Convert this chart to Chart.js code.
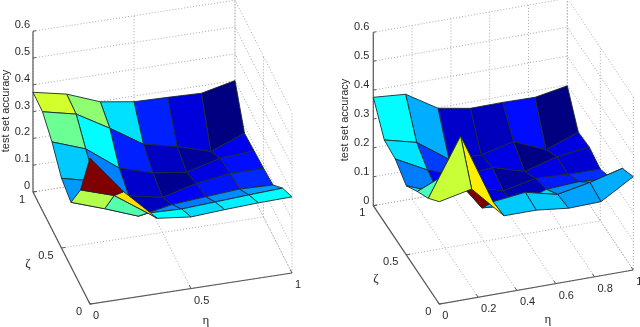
<!DOCTYPE html>
<html>
<head>
<meta charset="utf-8">
<style>
  html, body { margin: 0; padding: 0; background: #fff; }
  canvas { display: block; }
</style>
<script src="https://cdn.jsdelivr.net/npm/chart.js@4/dist/chart.umd.min.js"></script>
</head>
<body>
<canvas id="surfaces" width="640" height="327"></canvas>
<script>
// grid positions of both surfaces, rows run from zeta = 1 to zeta = 0
const etaGrid = [0, 1 / 6, 2 / 6, 3 / 6, 4 / 6, 5 / 6, 1];
const zetaGrid = [1, 5 / 6, 4 / 6, 3 / 6, 2 / 6, 1 / 6, 0];

const leftAccuracy = [
    [0.372, 0.346, 0.298, 0.279, 0.276, 0.272, 0.300],
    [0.369, 0.341, 0.269, 0.190, 0.162, 0.124, 0.173],
    [0.326, 0.281, 0.190, 0.152, 0.136, 0.169, 0.178],
    [0.260, 0.230, 0.156, 0.131, 0.164, 0.182, 0.182],
    [0.240, 0.197, 0.150, 0.174, 0.184, 0.193, 0.189],
    [0.356, 0.316, 0.231, 0.227, 0.234, 0.241, 0.247],
    [0.545, 0.400, 0.281, 0.267, 0.275, 0.281, 0.284]
];
const rightAccuracy = [
    [0.375, 0.366, 0.298, 0.278, 0.279, 0.277, 0.297],
    [0.284, 0.256, 0.178, 0.173, 0.200, 0.152, 0.193],
    [0.275, 0.217, 0.174, 0.187, 0.153, 0.185, 0.198],
    [0.239, 0.195, 0.195, 0.163, 0.186, 0.181, 0.179],
    [0.276, 0.324, 0.180, 0.170, 0.205, 0.212, 0.203],
    [0.309, 0.505, 0.258, 0.271, 0.244, 0.266, 0.295],
    [0.354, 0.378, 0.266, 0.266, 0.253, 0.256, 0.323]
];

const accuracyTicks = ['0', '0.1', '0.2', '0.3', '0.4', '0.5', '0.6'];
const zetaTicks = ['0', '0.5', '1'];
const leftEtaTicks = ['0', '0.5', '1'];
const rightEtaTicks = ['0', '0.2', '0.4', '0.6', '0.8', '1'];
const accuracyTitle = 'test set accuracy';
const etaTitle = 'η';
const zetaTitle = 'ζ';

// axonometric view of each panel: where the front corner sits and where the unit axes point
const leftView = { x: 90, y: 304, etaX: 202, etaY: -31, zetaX: -57, zetaY: -112, up: 268,
    titleX: 6, titleY: 111, zetaLabelX: 28, zetaLabelY: 264, etaLabelX: 206, etaLabelY: 321, zShift: 3, zLift: 6 };
const rightView = { x: 439.3, y: 304, etaX: 194, etaY: -34, zetaX: -66, zetaY: -98.3, up: 289,
    titleX: 345, titleY: 120, zetaLabelX: 376, zetaLabelY: 279, etaLabelX: 548, etaLabelY: 320, zShift: 4, zLift: 5 };

const project = (view, eta, zeta, z) => ({
    x: view.x + view.etaX * eta + view.zetaX * zeta,
    y: view.y + view.etaY * eta + view.zetaY * zeta - view.up * z
});

const clamp = (v) => Math.max(0, Math.min(1, v));
const jet = (t) => {
    const r = clamp(1.5 - Math.abs(4 * t - 3));
    const g = clamp(1.5 - Math.abs(4 * t - 2));
    const b = clamp(1.5 - Math.abs(4 * t - 1));
    return `rgb(${Math.round(r * 255)}, ${Math.round(g * 255)}, ${Math.round(b * 255)})`;
};

const datasets = [];
const labels = [];

const addLine = (points, color, width, dash) => {
    datasets.push({
        data: points,
        showLine: true,
        borderColor: color,
        borderWidth: width,
        borderDash: dash || [],
        pointRadius: 0,
        fill: false,
        tension: 0
    });
};

const addPanel = (view, accuracy, etaTicks) => {
    const gridColor = '#a8a8a8';
    const axisColor = '#5a5a5a';
    const zTop = Number(accuracyTicks[accuracyTicks.length - 1]);

    // back walls and floor
    accuracyTicks.forEach(tick => {
        const z = Number(tick);
        addLine([project(view, 0, 1, z), project(view, 1, 1, z), project(view, 1, 0, z)], gridColor, 1, [1, 2]);
    });
    etaTicks.forEach(tick => {
        const eta = Number(tick);
        addLine([project(view, eta, 0, 0), project(view, eta, 1, 0), project(view, eta, 1, zTop)], gridColor, 1, [1, 2]);
    });
    zetaTicks.forEach(tick => {
        const zeta = Number(tick);
        addLine([project(view, 0, zeta, 0), project(view, 1, zeta, 0), project(view, 1, zeta, zTop)], gridColor, 1, [1, 2]);
    });

    // axes
    addLine([project(view, 0, 1, zTop), project(view, 0, 1, 0), project(view, 0, 0, 0), project(view, 1, 0, 0)], axisColor, 1.2);
    accuracyTicks.forEach(tick => {
        addLine([project(view, 0, 1, Number(tick)), project(view, 0.015, 1, Number(tick))], axisColor, 1);
        const p = project(view, 0, 1, Number(tick));
        labels.push({ text: tick, x: p.x - view.zShift, y: p.y - view.zLift, align: 'right' });
    });
    etaTicks.forEach(tick => {
        addLine([project(view, Number(tick), 0, 0), project(view, Number(tick), 0.03, 0)], axisColor, 1);
        const p = project(view, Number(tick), 0, 0);
        labels.push({ text: tick, x: p.x + 3, y: p.y + 12, align: 'left' });
    });
    zetaTicks.forEach(tick => {
        addLine([project(view, 0, Number(tick), 0), project(view, 0.02, Number(tick), 0)], axisColor, 1);
        const p = project(view, 0, Number(tick), 0);
        labels.push({ text: tick, x: p.x - 8, y: p.y + 7.5, align: 'right' });
    });
    labels.push({ text: accuracyTitle, x: view.titleX, y: view.titleY, align: 'center', rotate: true });
    labels.push({ text: zetaTitle, x: view.zetaLabelX, y: view.zetaLabelY, align: 'center', greek: true });
    labels.push({ text: etaTitle, x: view.etaLabelX, y: view.etaLabelY, align: 'center', greek: true });

    // surface cells back to front, colour comes from the nearer corner like matlab's flat shading
    const all = accuracy.flat();
    const zMin = Math.min(...all);
    const zMax = Math.max(...all);
    for (let j = 0; j < zetaGrid.length - 1; j++) {
        for (let i = etaGrid.length - 2; i >= 0; i--) {
            const corner = (a, b) => project(view, etaGrid[a], zetaGrid[b], accuracy[b][a]);
            datasets.push({
                data: [corner(i, j), corner(i + 1, j), corner(i + 1, j + 1), corner(i, j + 1), corner(i, j)],
                showLine: true,
                backgroundColor: jet((accuracy[j + 1][i] - zMin) / (zMax - zMin)),
                borderColor: '#1c2a30',
                borderWidth: 0.9,
                borderJoinStyle: 'round',
                pointRadius: 0,
                fill: 'shape',
                tension: 0
            });
        }
    }
};

addPanel(leftView, leftAccuracy, leftEtaTicks);
addPanel(rightView, rightAccuracy, rightEtaTicks);

// chart.js draws high order first, so the painter's order has to be flipped
datasets.forEach((ds, k) => { ds.order = -k; });

const labelPlugin = {
    id: 'panelLabels',
    afterDraw(chart) {
        const { ctx, scales } = chart;
        ctx.save();
        ctx.fillStyle = '#2a2a2a';
        ctx.textBaseline = 'middle';
        labels.forEach(label => {
            const px = scales.x.getPixelForValue(label.x);
            const py = scales.y.getPixelForValue(label.y);
            ctx.font = label.greek ? '13px "Liberation Serif"' : '11px "Liberation Sans"';
            ctx.textAlign = label.align;
            if (label.rotate) {
                ctx.save();
                ctx.translate(px, py);
                ctx.rotate(-Math.PI / 2);
                ctx.fillText(label.text, 0, 0);
                ctx.restore();
            } else {
                ctx.fillText(label.text, px, py);
            }
        });
        ctx.restore();
    }
};

new Chart(document.getElementById('surfaces').getContext('2d'), {
    type: 'scatter',
    data: { datasets },
    options: {
        responsive: false,
        animation: false,
        layout: { padding: 0 },
        scales: {
            x: { type: 'linear', min: 0, max: 640, display: false },
            y: { type: 'linear', min: 0, max: 327, reverse: true, display: false }
        },
        plugins: {
            legend: { display: false },
            tooltip: { enabled: false },
            filler: { drawTime: 'beforeDatasetDraw' }
        }
    },
    plugins: [labelPlugin]
});
</script>
</body>
</html>
